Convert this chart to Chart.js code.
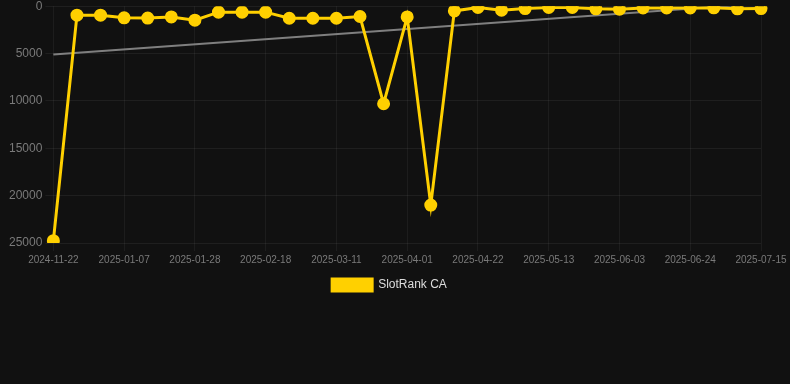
<!DOCTYPE html>
<html>
<head>
<meta charset="utf-8">
<script src="https://cdn.jsdelivr.net/npm/chart.js@4/dist/chart.umd.min.js"></script>
<style>
  html, body { margin: 0; padding: 0; background: #111111; overflow: hidden; }
  .wrap { width: 790px; height: 305px; position: relative; margin-top: -4px; }
</style>
</head>
<body>
<div class="wrap"><canvas id="rank"></canvas></div>
<script>
// weekly snapshots (first gap is longer)
const dates = [
  '2024-11-22', '2024-12-24', '2024-12-31', '2025-01-07', '2025-01-14', '2025-01-21',
  '2025-01-28', '2025-02-04', '2025-02-11', '2025-02-18', '2025-02-25', '2025-03-04',
  '2025-03-11', '2025-03-18', '2025-03-25', '2025-04-01', '2025-04-08', '2025-04-15',
  '2025-04-22', '2025-04-29', '2025-05-06', '2025-05-13', '2025-05-20', '2025-05-27',
  '2025-06-03', '2025-06-10', '2025-06-17', '2025-06-24', '2025-07-01', '2025-07-08',
  '2025-07-15'
];

// rank values
const rankCA = [
  24750, 950, 950, 1230, 1250, 1130,
  1480, 630, 630, 630, 1270, 1270,
  1270, 1090, 10300, 1130, 21000, 500,
  140, 420, 250, 140, 140, 280,
  320, 180, 180, 180, 170, 280,
  250
];

// trend line end points (first and last date)
const trendStart = 5100;
const trendEnd = -280;
const trend = dates.map((d, i) => i === 0 ? trendStart : (i === dates.length - 1 ? trendEnd : null));

const yTicks = [0, 5000, 10000, 15000, 20000, 25000];

const ctx = document.getElementById('rank');
new Chart(ctx, {
  type: 'line',
  data: {
    labels: dates,
    datasets: [
      {
        label: 'SlotRank CA',
        data: rankCA,
        borderColor: '#FFD000',
        backgroundColor: '#FFD000',
        borderWidth: 3,
        pointRadius: 5,
        pointHoverRadius: 6,
        tension: 0,
        order: 1
      },
      {
        label: 'Trend',
        data: trend,
        spanGaps: true,
        borderColor: 'rgba(140, 140, 140, 0.9)',
        borderWidth: 2,
        pointRadius: 0,
        order: 2
      }
    ]
  },
  options: {
    responsive: true,
    maintainAspectRatio: false,
    animation: false,
    layout: { padding: { left: 6, right: 17 } },
    scales: {
      y: {
        reverse: true,
        min: 0,
        max: 25000,
        afterBuildTicks: (axis) => { axis.ticks = yTicks.map(v => ({ value: v })); },
        ticks: {
          color: '#7a7a7a',
          font: { size: 12 },
          callback: (v) => String(v)
        },
        grid: { color: 'rgba(255, 255, 255, 0.06)' },
        border: { display: false }
      },
      x: {
        // keep the plot a bit narrower than the label overhang needs
        afterFit: (axis) => { axis.paddingRight = Math.max(axis.paddingRight, 29); },
        ticks: {
          color: '#7a7a7a',
          font: { size: 10 },
          maxRotation: 0,
          autoSkip: false,
          callback: function (val, i) { return i % 3 === 0 ? this.getLabelForValue(val) : ''; }
        },
        grid: {
          color: (c) => c.index % 3 === 0 ? 'rgba(255, 255, 255, 0.05)' : 'rgba(0, 0, 0, 0)'
        },
        border: { display: false }
      }
    },
    plugins: {
      legend: {
        position: 'bottom',
        labels: {
          color: '#dddddd',
          font: { size: 12 },
          boxWidth: 40,
          boxHeight: 12,
          filter: (item) => item.text !== 'Trend'
        }
      },
      tooltip: { enabled: false }
    }
  }
});
</script>
</body>
</html>
